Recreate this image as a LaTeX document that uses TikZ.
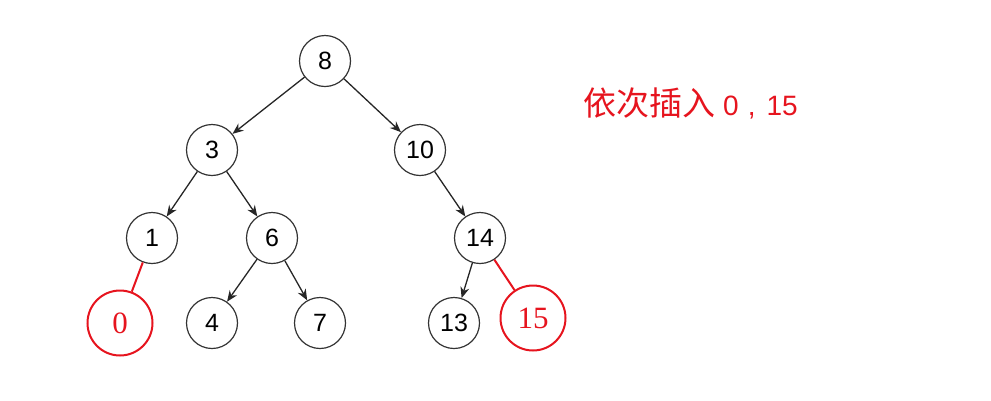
\documentclass[tikz,border=0pt]{standalone}
\usepackage{fontspec}
\setmainfont{Liberation Sans}
\newfontfamily\serifnum{Liberation Serif}
\newfontfamily\cjk{Noto Sans CJK SC}
\usetikzlibrary{arrows.meta}
\definecolor{hred}{RGB}{230,20,30}
\begin{document}
\begin{tikzpicture}[x=1pt,y=-1pt,
  bnode/.style={circle,draw=black!80,line width=1.2pt,minimum size=51pt,inner sep=0pt,font=\fontsize{25}{27}\selectfont},
  rnode/.style={circle,draw=hred,line width=2pt,minimum size=65pt,inner sep=0pt,text=hred,font=\serifnum\fontsize{31}{33}\selectfont},
  arr/.style={-{Stealth[length=11pt,width=9pt]},line width=1.3pt,black!85},
  redline/.style={draw=hred,line width=2pt}]
\useasboundingbox (0,0) rectangle (991,400);
\node[bnode] (n8) at (325,61) {8};
\node[bnode] (n3) at (212,150) {3};
\node[bnode] (n10) at (420,150) {10};
\node[bnode] (n1) at (152,238) {1};
\node[bnode] (n6) at (272,238) {6};
\node[bnode] (n14) at (480,238) {14};
\node[rnode] (n0) at (120,323) {0};
\node[bnode] (n4) at (212,323) {4};
\node[bnode] (n7) at (320,323) {7};
\node[bnode] (n13) at (454,323) {13};
\node[rnode] (n15) at (533,318) {15};
\draw[arr] (n8) -- (n3);
\draw[arr] (n8) -- (n10);
\draw[arr] (n3) -- (n1);
\draw[arr] (n3) -- (n6);
\draw[arr] (n10) -- (n14);
\draw[arr] (n6) -- (n4);
\draw[arr] (n6) -- (n7);
\draw[arr] (n14) -- (n13);
\draw[redline] (n1) -- (n0);
\draw[redline] (n14) -- (n15);
\node[anchor=west,text=hred,inner sep=0pt,font=\fontsize{28}{30}\selectfont] (title) at (583,103) {{\cjk\fontsize{33}{35}\selectfont 依次插入}\hspace{8pt}0\hspace{9pt},\hspace{11pt}15};
\end{tikzpicture}
\end{document}
